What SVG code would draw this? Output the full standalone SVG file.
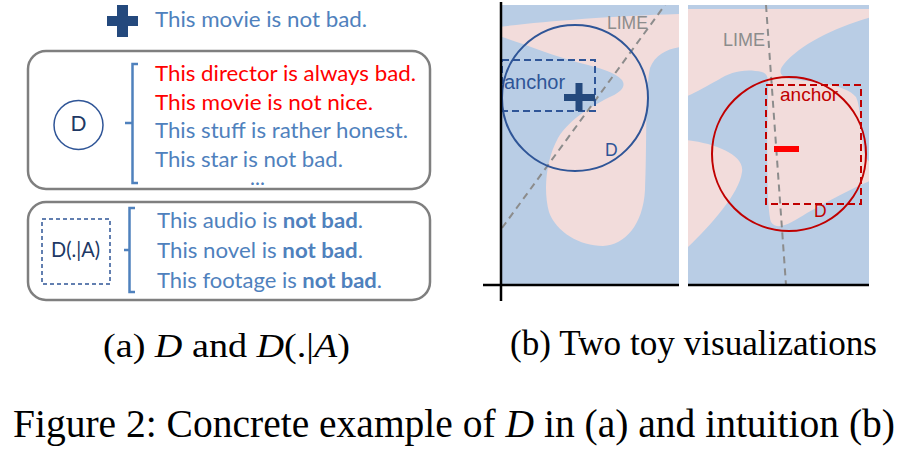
<svg xmlns="http://www.w3.org/2000/svg" width="906" height="451" viewBox="0 0 906 451">
<style>
.t{font-family:Lato,"Open Sans","Liberation Sans",sans-serif;font-size:21px}
.blue{fill:#4f81bd}
.red{fill:#ff0000}
.box{fill:#ffffff;stroke:#7f7f7f;stroke-width:2.5}
.br{fill:none;stroke:#4f81bd;stroke-width:2.5}
.lbl{font-family:"Liberation Sans",Arial,sans-serif}
.lime{fill:none;stroke:#8c8c8c;stroke-width:2;stroke-dasharray:7 5}
.cap{font-family:"Liberation Serif","Times New Roman",serif;fill:#000000}
.bg{fill:#b9cde5}
.pk{fill:#f2dcdb}
</style>
<defs>
<clipPath id="clipL"><rect x="501" y="5" width="178" height="280"/></clipPath>
<clipPath id="clipR"><rect x="688" y="5" width="181" height="280"/></clipPath>
</defs>
<rect x="0" y="0" width="906" height="451" fill="#ffffff"/>

<g id="header">
<rect x="107" y="16" width="31" height="10" fill="#24497d"/>
<rect x="117" y="5" width="11" height="32" fill="#24497d"/>
<text class="t blue" x="155" y="27" textLength="212" lengthAdjust="spacingAndGlyphs">This movie is not bad.</text>
</g>

<g id="boxD">
<rect class="box" x="28" y="51" width="402" height="138" rx="18"/>
<circle cx="78.5" cy="125" r="24.5" fill="none" stroke="#2f5597" stroke-width="1.5"/>
<text class="t" x="78.5" y="131" font-size="16" fill="#203864" text-anchor="middle">D</text>
<path class="br" d="M138,64 L132.5,64 L132.5,183 L138,183 M132.5,123 L125,123"/>
<text class="t red" x="155" y="81" textLength="261" lengthAdjust="spacingAndGlyphs">This director is always bad.</text>
<text class="t red" x="155" y="110" textLength="218" lengthAdjust="spacingAndGlyphs">This movie is not nice.</text>
<text class="t blue" x="155" y="138" textLength="253" lengthAdjust="spacingAndGlyphs">This stuff is rather honest.</text>
<text class="t blue" x="155" y="167" textLength="188" lengthAdjust="spacingAndGlyphs">This star is not bad.</text>
<text class="t blue" x="257.5" y="185" font-size="13" text-anchor="middle">...</text>
</g>

<g id="boxDA">
<rect class="box" x="28" y="202" width="402" height="98" rx="18"/>
<rect x="42" y="219" width="68" height="65" fill="none" stroke="#2f5597" stroke-width="1.5" stroke-dasharray="4 3"/>
<text class="t" x="51" y="257" font-size="17" fill="#203864" textLength="49" lengthAdjust="spacingAndGlyphs">D(.|A)</text>
<path class="br" d="M135,208 L129.5,208 L129.5,292 L135,292 M129.5,250 L124,250"/>
<text class="t blue" x="157" y="228" textLength="206" lengthAdjust="spacingAndGlyphs">This audio is <tspan font-weight="bold">not bad</tspan>.</text>
<text class="t blue" x="157" y="258" textLength="206" lengthAdjust="spacingAndGlyphs">This novel is <tspan font-weight="bold">not bad</tspan>.</text>
<text class="t blue" x="157" y="288" textLength="225" lengthAdjust="spacingAndGlyphs">This footage is <tspan font-weight="bold">not bad</tspan>.</text>
</g>

<g id="plotLeft">
<g clip-path="url(#clipL)">
<rect class="bg" x="501" y="5" width="178" height="280"/>
<path class="pk" d="M498,27 C540,22 610,16 682,14 L682,47 C668,48 655,55 650,68 C645,90 647,150 645,190 C643,225 625,245 603,246 C580,246 556,232 549,212 C543,190 546,160 558,138 C570,118 595,104 612,96 C622,91 626,86 622,80 C615,72 600,68 580,63 C550,55 520,42 498,36 Z"/>
<line class="lime" x1="502" y1="228" x2="665" y2="5"/>
</g>
<text class="lbl" x="607" y="29" font-size="17.5" fill="#8c8c8c">LIME</text>
<rect x="502" y="60" width="93" height="51" fill="none" stroke="#2f5597" stroke-width="2" stroke-dasharray="7 4"/>
<text class="lbl" x="504" y="89" font-size="20" fill="#2f5597">anchor</text>
<rect x="564" y="94" width="31" height="7" fill="#24497d"/>
<rect x="575.5" y="83" width="7" height="28" fill="#24497d"/>
<circle cx="575" cy="98" r="73" fill="none" stroke="#2f5597" stroke-width="2"/>
<text class="lbl" x="605" y="156" font-size="17.5" fill="#2f5597">D</text>
</g>

<g id="plotRight">
<g clip-path="url(#clipR)">
<rect class="bg" x="688" y="5" width="181" height="280"/>
<path class="pk" d="M685,9 L872,9 L872,17 C835,27 800,45 784,64 C779,70 778,76 790,79 C815,82 845,84 856,97 C862,110 860,140 866,158 L872,165 L872,180 C855,187 830,200 807,213 C792,222 778,232 771,222 C766,205 767,130 768,95 C768,82 770,75 762,72 C745,68 730,72 718,80 C705,87 695,93 685,97 Z"/>
<path class="pk" d="M685,140 C715,143 745,155 742,172 C739,195 708,228 685,250 Z"/>
<line class="lime" x1="766" y1="5" x2="786" y2="285"/>
</g>
<text class="lbl" x="723" y="46" font-size="18" fill="#8c8c8c">LIME</text>
<text class="lbl" x="780" y="101" font-size="19" fill="#c00000">anchor</text>
<rect x="766" y="85" width="95" height="119" fill="none" stroke="#c00000" stroke-width="2" stroke-dasharray="7 4"/>
<rect x="774" y="146" width="25" height="6" fill="#ff0000"/>
<circle cx="789" cy="154" r="77" fill="none" stroke="#c00000" stroke-width="2"/>
<text class="lbl" x="814" y="217" font-size="17.5" fill="#c00000">D</text>
</g>

<g id="axes" stroke="#000000" stroke-width="2.5">
<line x1="501" y1="2" x2="501" y2="301"/>
<line x1="483" y1="285" x2="679" y2="285"/>
<line x1="688" y1="285" x2="869" y2="285"/>
</g>

<g id="captions">
<text class="cap" x="103" y="357" font-size="34" textLength="247" lengthAdjust="spacingAndGlyphs">(a) <tspan font-style="italic">D</tspan> and <tspan font-style="italic">D</tspan>(.|<tspan font-style="italic">A</tspan>)</text>
<text class="cap" x="510" y="355" font-size="36" textLength="367" lengthAdjust="spacingAndGlyphs">(b) Two toy visualizations</text>
<text class="cap" x="13" y="437" font-size="39" textLength="882" lengthAdjust="spacingAndGlyphs">Figure 2: Concrete example of <tspan font-style="italic">D</tspan> in (a) and intuition (b)</text>
</g>
</svg>
